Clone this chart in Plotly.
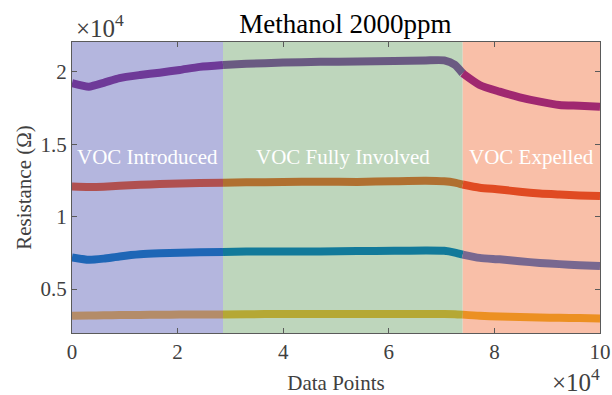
import plotly.graph_objects as go

# ---- data ----
x_points = [0, 3200, 6000, 9000, 12900, 16600, 20400, 24200, 28600, 33000, 40000, 47000,
            54000, 61000, 67000, 70500, 72500, 74000, 77200, 81000, 84800, 88600, 92300,
            96100, 100000]
purple_vals = [19220, 18980, 19250, 19580, 19790, 19950, 20140, 20350, 20480, 20560, 20650, 20700,
               20720, 20760, 20800, 20800, 20500, 19900, 19100, 18640, 18250, 17950, 17720,
               17670, 17600]
red_vals = [12080, 12050, 12070, 12130, 12200, 12250, 12290, 12320, 12340, 12370, 12390, 12420,
            12400, 12450, 12480, 12440, 12350, 12220, 12000, 11880, 11720, 11600, 11530,
            11470, 11430]
blue_vals = [7190, 7020, 7100, 7250, 7400, 7470, 7510, 7540, 7560, 7590, 7600, 7600,
             7620, 7640, 7660, 7640, 7520, 7380, 7150, 7050, 6920, 6800, 6720,
             6650, 6590]
yellow_vals = [3150, 3170, 3180, 3200, 3210, 3220, 3230, 3235, 3240, 3260, 3270, 3270,
               3270, 3275, 3275, 3270, 3260, 3230, 3150, 3100, 3060, 3030, 3010,
               2990, 2970]

region_bounds = [0, 28600, 74000, 100000]
region_names = ["VOC Introduced", "VOC Fully Involved", "VOC Expelled"]
region_fill = ["#b4b6de", "#bed6bc", "#f9bfa8"]

# observed (blended) line colours per region
series = [
    (purple_vals, ["#6e3a98", "#6a5a82", "#a02870"]),
    (red_vals, ["#b05050", "#b07030", "#e04a22"]),
    (blue_vals, ["#1e66b6", "#127a9a", "#786890"]),
    (yellow_vals, ["#b48c68", "#b5a834", "#ec9022"]),
]

x_ticks = [0, 20000, 40000, 60000, 80000, 100000]
x_tick_text = ["0", "2", "4", "6", "8", "10"]
y_ticks = [5000, 10000, 15000, 20000]
y_tick_text = ["0.5", "1", "1.5", "2"]

FONT = "Liberation Serif, Times New Roman, serif"
GRAY = "#404040"

fig = go.Figure()

for vals, cols in series:
    for r in range(3):
        lo, hi = region_bounds[r], region_bounds[r + 1]
        xs = [x for x in x_points if lo <= x <= hi]
        ys = [v for x, v in zip(x_points, vals) if lo <= x <= hi]
        fig.add_trace(go.Scatter(x=xs, y=ys, mode="lines",
                                 line=dict(color=cols[r], width=8, shape="spline", smoothing=0.6),
                                 showlegend=False, hoverinfo="skip"))

for r in range(3):
    fig.add_shape(type="rect", xref="x", yref="paper",
                  x0=region_bounds[r], x1=region_bounds[r + 1], y0=0, y1=1,
                  fillcolor=region_fill[r], line=dict(width=0), layer="below")
    fig.add_annotation(x=(region_bounds[r] + region_bounds[r + 1]) / 2, y=14100,
                       text=region_names[r], showarrow=False,
                       font=dict(family=FONT, size=21, color="white"))

fig.add_annotation(xref="paper", yref="paper", x=0, y=1, xanchor="left", yanchor="bottom",
                   xshift=2, yshift=-2, text="×10<sup>4</sup>", showarrow=False,
                   font=dict(family=FONT, size=25, color=GRAY))
fig.add_annotation(xref="paper", yref="paper", x=1, y=0, xanchor="right", yanchor="top",
                   xshift=2, yshift=-29, text="×10<sup>4</sup>", showarrow=False,
                   font=dict(family=FONT, size=25, color=GRAY))

axis_common = dict(showgrid=False, zeroline=False, showline=True, linecolor="#5a5a5a",
                   linewidth=1, mirror="ticks", ticks="inside", ticklen=5, automargin=False,
                   ticklabeloverflow="allow",
                   tickcolor="#5a5a5a", tickfont=dict(family=FONT, size=21, color=GRAY))

fig.update_layout(
    width=612, height=395,
    margin=dict(l=72, r=12, t=42, b=62),
    plot_bgcolor="white", paper_bgcolor="white",
    title=dict(text="Methanol 2000ppm", x=0.5645, xanchor="center",
               yref="container", y=1.0, yanchor="top", pad=dict(t=14),
               font=dict(family=FONT, size=27, color="black")),
    xaxis=dict(range=[0, 100000], tickvals=x_ticks, ticktext=x_tick_text,
               title=dict(text="Data Points", font=dict(family=FONT, size=21, color=GRAY), standoff=13),
               **axis_common),
    yaxis=dict(range=[1960, 22070], tickvals=y_ticks, ticktext=y_tick_text,
               title=dict(text="Resistance (Ω)", font=dict(family=FONT, size=21, color=GRAY), standoff=3),
               **axis_common),
)

fig.write_html("out.html", config={"displayModeBar": False},
               post_script="document.body.style.margin='0';document.body.style.overflow='hidden';")
